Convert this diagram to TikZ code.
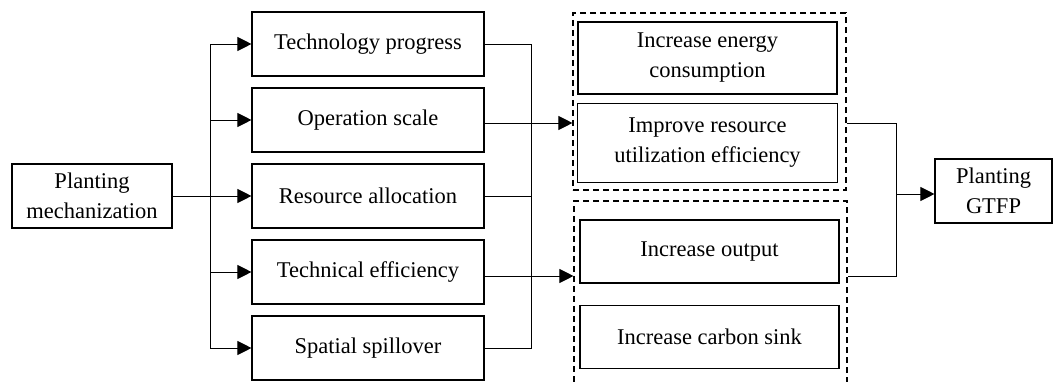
\documentclass[tikz,border=0pt]{standalone}
\usepackage{fontspec}
\setmainfont{Liberation Serif}
\usepackage{xcolor}
\usepackage{tikz}
\usetikzlibrary{arrows.meta, positioning, calc}

\begin{document}
\begin{tikzpicture}[
	x=1pt, y=-1pt,
	node distance=10.9pt,
	box/.style={rectangle, draw=black, line width=1.1pt, minimum width=232pt, minimum height=64pt, inner sep=2pt, align=center, font=\fontsize{22.5}{30}\selectfont},
	group/.style={rectangle, draw=black, line width=1.1pt, dash pattern=on 6pt off 4pt},
	arrow/.style={-{Triangle[length=14pt, width=14pt]}, line width=0.9pt, color=black},
	line/.style={line width=0.9pt, color=black}
	]
	\useasboundingbox (0,0) rectangle (1055,382);
	% Define nodes
	\node[box, minimum width=160pt] (mech) at (92,196) {Planting\\mechanization};
	\node[box] (tech) at (368,44) {Technology progress};
	\node[box, below=of tech] (scale) {Operation scale};
	\node[box, below=of scale] (alloc) {Resource allocation};
	\node[box, below=of alloc] (eff) {Technical efficiency};
	\node[box, below=of eff] (spill) {Spatial spillover};
	
	\node[group, minimum width=273pt, minimum height=177pt] (grp1) at (709.5,101.5) {};
	\node[group, minimum width=273pt, minimum height=189pt] (grp2) at (710.5,295.5) {};
	\node[box, minimum width=259pt, minimum height=72pt] (energy) at (707.5,58) {Increase energy\\consumption};
	\node[box, minimum width=260pt, minimum height=79pt, below=8pt of energy] (improve) {Improve resource\\utilization efficiency};
	\node[box, minimum width=259pt, minimum height=63pt] (output) at (709.5,251.5) {Increase output};
	\node[box, minimum width=259pt, minimum height=63pt, below=21pt of output] (sink) {Increase carbon sink};
	
	\node[box, minimum width=117pt] (gtfp) at (993.5,191) {Planting\\GTFP};
	
	\coordinate (split) at (210,196);
	\coordinate (join) at (531,196);
	\coordinate (collect) at (896,196);
	\coordinate (scaleout) at ([yshift=-3pt]scale.east);
	\coordinate (effout) at ([yshift=-4pt]eff.east);
	\coordinate (gtfpin) at ([yshift=-3pt]gtfp.west);
	
	% Arrows
	\draw[arrow] (mech.east) -- (alloc.west);
	\draw[arrow] (split) |- (tech.west);
	\draw[arrow] (split) |- (scale.west);
	\draw[arrow] (split) |- (eff.west);
	\draw[arrow] (split) |- (spill.west);
	
	\draw[line] (tech.east) -| (join |- spill.east) -- (spill.east);
	\draw[line] (alloc.east) -- (join |- alloc.east);
	\draw[arrow] (scaleout) -- (scaleout -| grp1.west);
	\draw[arrow] (effout) -- (effout -| grp2.west);
	
	\draw[line] (scaleout -| grp1.east) -| (collect |- effout) -- (effout -| grp2.east);
	\draw[arrow] (collect |- gtfpin) -- (gtfpin);
\end{tikzpicture}
\end{document}
